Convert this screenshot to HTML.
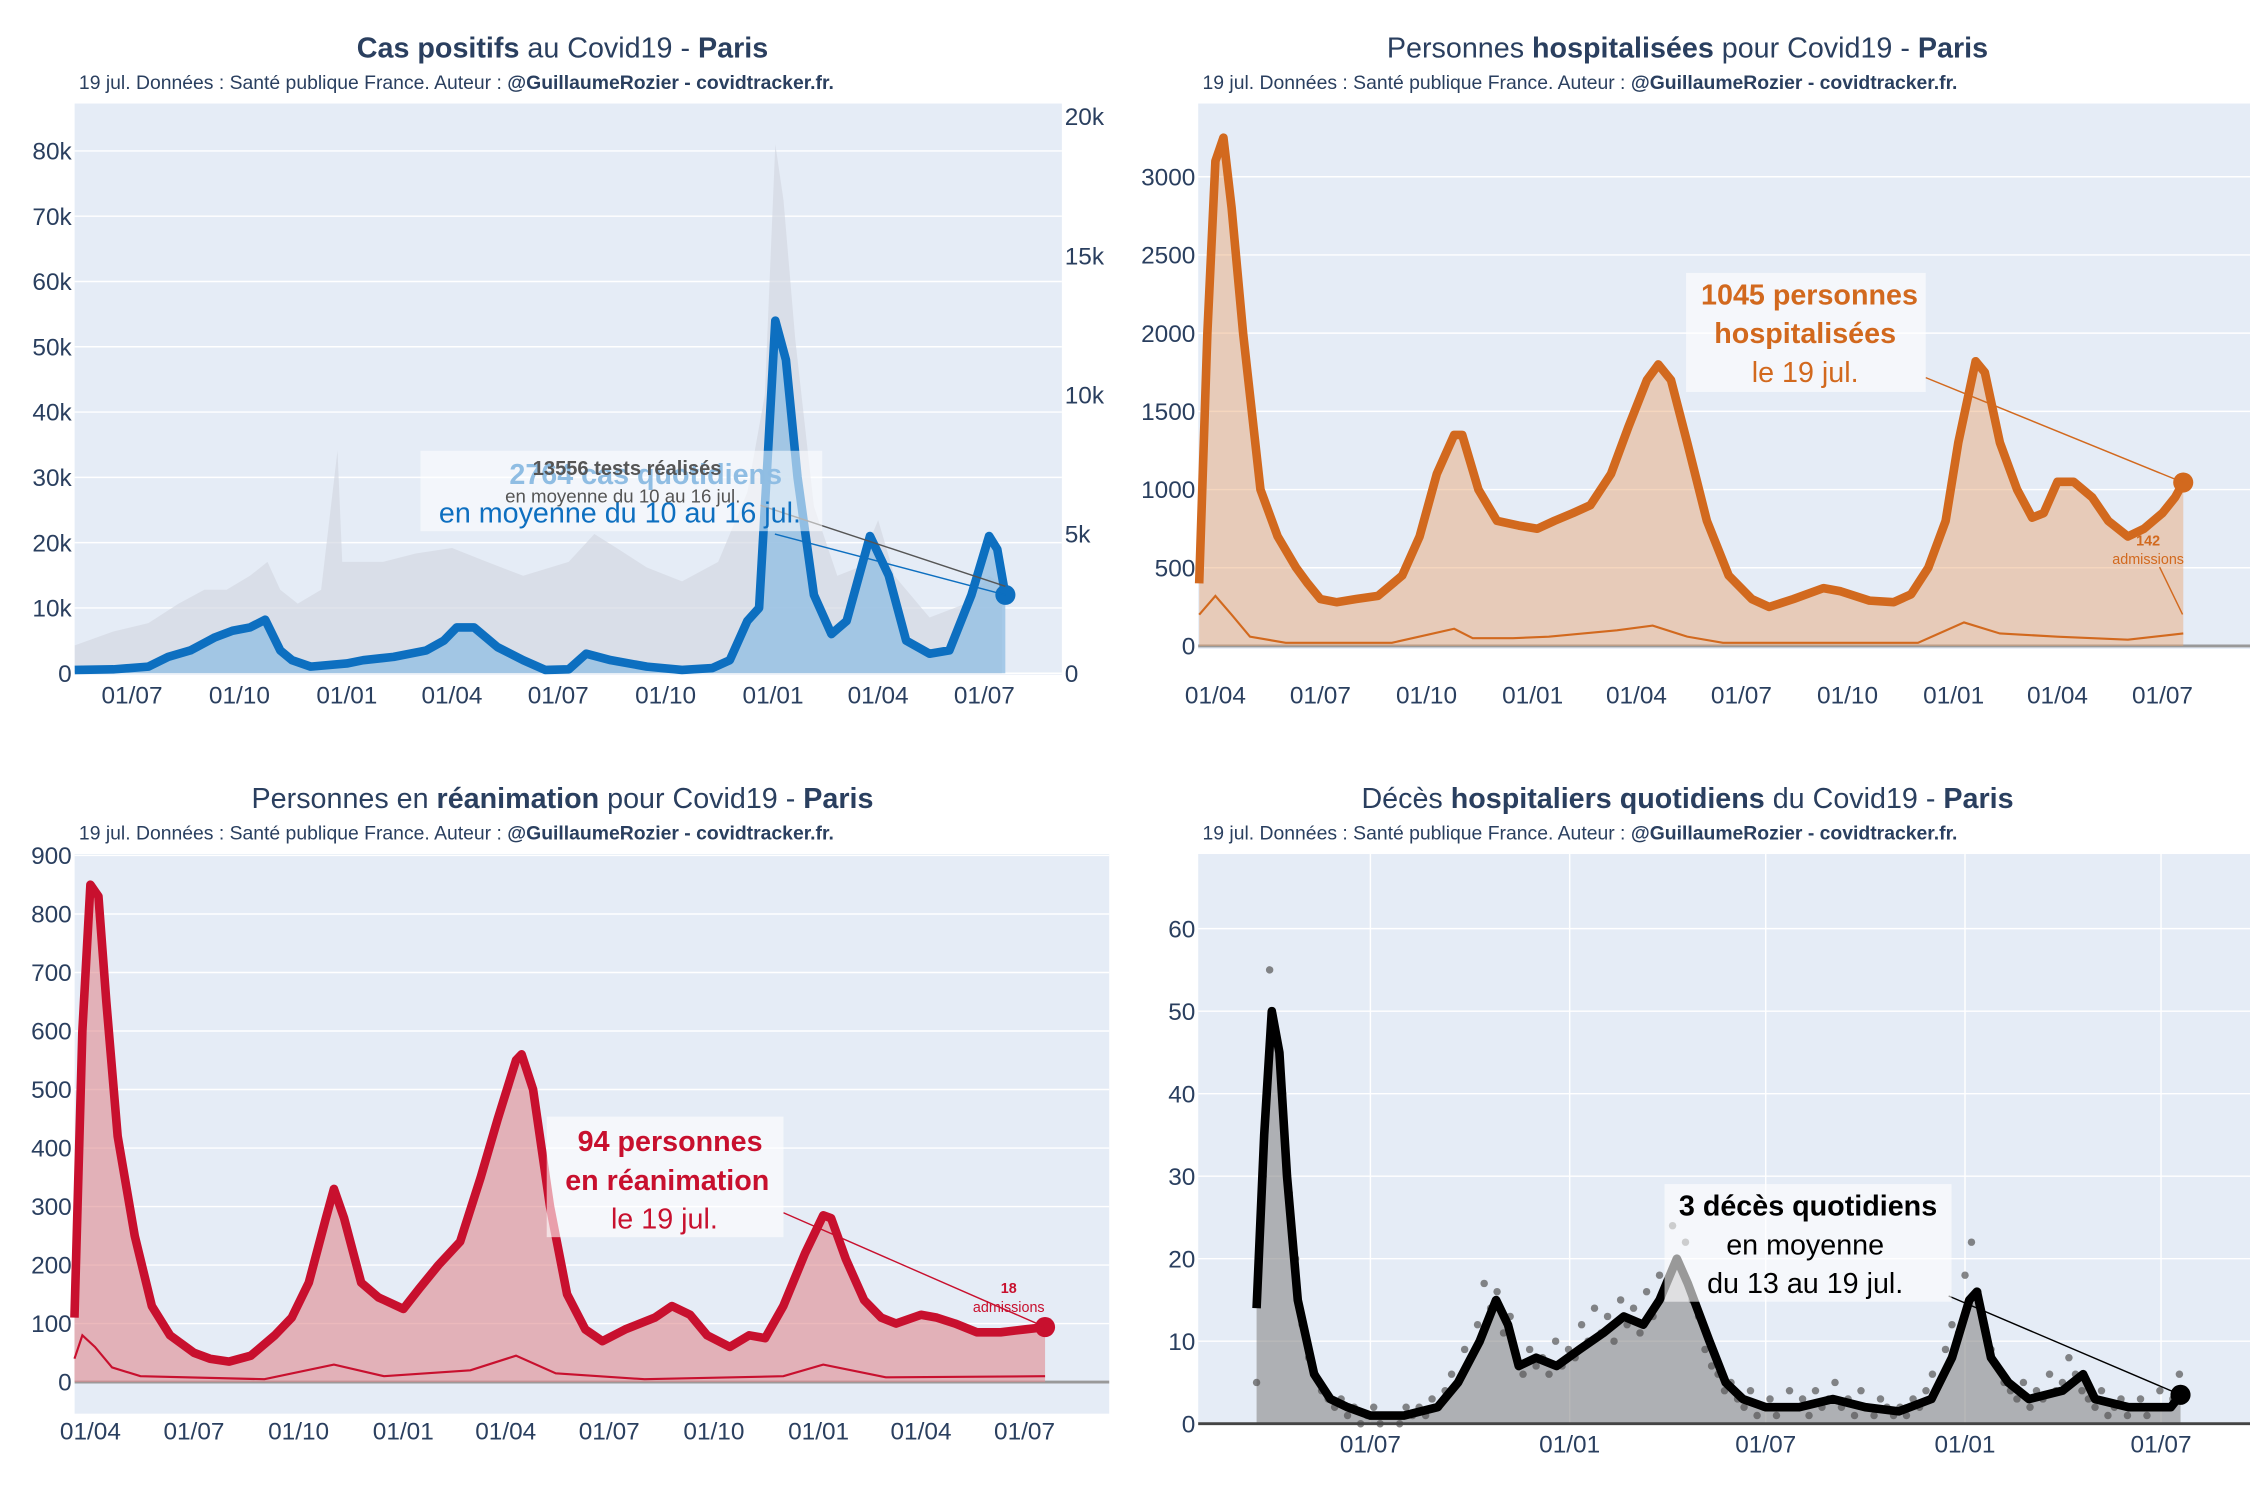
<!DOCTYPE html>
<html><head><meta charset="utf-8">
<style>
html,body{margin:0;padding:0;background:#fff;}
svg{display:block;font-family:"Liberation Sans",sans-serif;}
.tick{font-size:17px;fill:#2a3f5f;}
.title{font-size:20px;fill:#2a3f5f;}
.sub{font-size:13.5px;fill:#2a3f5f;}
</style></head>
<body>
<svg id="chart" width="2250" height="1500" viewBox="0 0 1568 1045" xmlns="http://www.w3.org/2000/svg"></svg>
<script>
// ---------- Panel 1: cases (left axis, values in k) ----------
const casesDates=["2020-05-13","2020-06-15","2020-07-15","2020-08-01","2020-08-20","2020-09-10","2020-09-25","2020-10-10","2020-10-23","2020-11-05","2020-11-15","2020-12-01","2021-01-01","2021-01-15","2021-02-10","2021-03-10","2021-03-25","2021-04-05","2021-04-20","2021-05-10","2021-06-01","2021-06-20","2021-07-10","2021-07-25","2021-08-15","2021-09-15","2021-10-15","2021-11-10","2021-11-25","2021-12-10","2021-12-20","2021-12-28","2022-01-03","2022-01-12","2022-01-22","2022-02-05","2022-02-20","2022-03-05","2022-03-25","2022-04-10","2022-04-25","2022-05-15","2022-06-01","2022-06-20","2022-07-05","2022-07-12","2022-07-19"];
const casesValues=[0.5,0.6,1.0,2.5,3.5,5.5,6.5,7.0,8.2,3.5,2.0,1.0,1.5,2.0,2.5,3.5,5.0,7.0,7.0,4.0,2.0,0.5,0.6,3.0,2.0,1.0,0.5,0.8,2.0,8.0,10,35,54,48,30,12,6,8,21,15,5,3,3.5,12,21,19,12];
const testsDates=["2020-05-13","2020-06-15","2020-07-15","2020-08-10","2020-09-01","2020-09-20","2020-10-10","2020-10-25","2020-11-05","2020-11-20","2020-12-10","2020-12-24","2020-12-28","2021-01-10","2021-02-01","2021-03-01","2021-04-01","2021-05-01","2021-06-01","2021-07-10","2021-08-01","2021-08-20","2021-09-15","2021-10-15","2021-11-15","2021-12-10","2021-12-25","2022-01-03","2022-01-10","2022-01-20","2022-02-05","2022-02-25","2022-03-15","2022-04-01","2022-04-15","2022-05-15","2022-06-15","2022-07-05","2022-07-16"];
const testsValues=[1.0,1.5,1.8,2.5,3.0,3.0,3.5,4.0,3.0,2.5,3.0,8.0,4.0,4.0,4.0,4.3,4.5,4.0,3.5,4.0,5.0,4.5,3.8,3.3,4.0,6.5,10,19,17,12,6,3.5,3.8,5.5,3.5,2.0,2.5,3.5,3.2];
const p1LeftTicks=[0,10,20,30,40,50,60,70,80];
const p1RightTicks=[0,5,10,15,20];
// ---------- Panel 2: hospitalisations ----------
const hospDates=["2020-03-18","2020-03-25","2020-04-01","2020-04-08","2020-04-15","2020-04-25","2020-05-10","2020-05-25","2020-06-10","2020-06-20","2020-07-01","2020-07-15","2020-08-01","2020-08-20","2020-09-10","2020-09-25","2020-10-10","2020-10-25","2020-11-01","2020-11-15","2020-12-01","2020-12-20","2021-01-05","2021-01-20","2021-02-05","2021-02-20","2021-03-10","2021-03-25","2021-04-10","2021-04-20","2021-05-01","2021-05-15","2021-06-01","2021-06-20","2021-07-10","2021-07-25","2021-08-15","2021-09-10","2021-09-25","2021-10-20","2021-11-10","2021-11-25","2021-12-10","2021-12-25","2022-01-05","2022-01-20","2022-01-28","2022-02-10","2022-02-25","2022-03-10","2022-03-20","2022-04-01","2022-04-15","2022-05-01","2022-05-15","2022-06-01","2022-06-15","2022-07-01","2022-07-12","2022-07-19"];
const hospValues=[400,2000,3100,3250,2800,2000,1000,700,500,400,300,280,300,320,450,700,1100,1350,1350,1000,800,770,750,800,850,900,1100,1400,1700,1800,1700,1300,800,450,300,250,300,370,350,290,280,330,500,800,1300,1820,1750,1300,1000,820,850,1050,1050,950,800,700,750,850,950,1045];
const hospAdmDates=["2020-03-18","2020-04-01","2020-04-15","2020-05-01","2020-06-01","2020-09-01","2020-10-25","2020-11-10","2020-12-15","2021-01-15","2021-03-15","2021-04-15","2021-05-15","2021-06-15","2021-09-01","2021-12-01","2022-01-10","2022-02-10","2022-04-01","2022-06-01","2022-07-19"];
const hospAdmValues=[200,320,200,60,20,20,110,50,50,60,100,130,60,20,20,20,150,80,60,40,80];
const p2Ticks=[0,500,1000,1500,2000,2500,3000];
// ---------- Panel 3: ICU ----------
const icuDates=["2020-03-18","2020-03-25","2020-04-01","2020-04-08","2020-04-15","2020-04-25","2020-05-10","2020-05-25","2020-06-10","2020-07-01","2020-07-15","2020-08-01","2020-08-20","2020-09-10","2020-09-25","2020-10-10","2020-10-25","2020-11-01","2020-11-10","2020-11-25","2020-12-10","2021-01-01","2021-01-15","2021-02-01","2021-02-20","2021-03-10","2021-03-25","2021-04-10","2021-04-15","2021-04-25","2021-05-10","2021-05-25","2021-06-10","2021-06-25","2021-07-15","2021-08-10","2021-08-25","2021-09-10","2021-09-25","2021-10-15","2021-11-01","2021-11-15","2021-12-01","2021-12-20","2022-01-05","2022-01-12","2022-01-25","2022-02-10","2022-02-25","2022-03-10","2022-04-01","2022-04-15","2022-05-01","2022-05-20","2022-06-10","2022-07-01","2022-07-19"];
const icuValues=[110,600,850,830,650,420,250,130,80,50,40,35,45,80,110,170,280,330,280,170,145,125,160,200,240,350,450,550,560,500,300,150,90,70,90,110,130,115,80,60,80,75,130,220,285,280,210,140,110,100,115,110,100,85,85,90,94];
const icuAdmDates=["2020-03-18","2020-03-25","2020-04-05","2020-04-20","2020-05-15","2020-09-01","2020-11-01","2020-12-15","2021-03-01","2021-04-10","2021-05-15","2021-08-01","2021-12-01","2022-01-05","2022-03-01","2022-07-19"];
const icuAdmValues=[40,80,60,25,10,5,30,10,20,45,15,5,10,30,8,10];
const p3Ticks=[0,100,200,300,400,500,600,700,800,900];
// ---------- Panel 4: deaths ----------
const deathDates=["2020-03-18","2020-03-25","2020-04-01","2020-04-08","2020-04-15","2020-04-25","2020-05-10","2020-05-25","2020-06-10","2020-07-01","2020-08-01","2020-09-01","2020-09-20","2020-10-10","2020-10-25","2020-11-05","2020-11-15","2020-12-01","2020-12-20","2021-01-10","2021-02-01","2021-02-20","2021-03-10","2021-03-25","2021-04-10","2021-04-20","2021-05-10","2021-05-25","2021-06-10","2021-07-01","2021-08-01","2021-09-01","2021-10-01","2021-11-01","2021-12-01","2021-12-20","2022-01-05","2022-01-12","2022-01-25","2022-02-10","2022-03-01","2022-04-01","2022-04-20","2022-05-01","2022-06-01","2022-07-10","2022-07-19"];
const deathValues=[14,35,50,45,30,15,6,3,2,1,1,2,5,10,15,12,7,8,7,9,11,13,12,15,20,17,10,5,3,2,2,3,2,1.5,3,8,15,16,8,5,3,4,6,3,2,2,3.5];
const dotStart="2020-03-18";
const dotValues=[5,30,55,47,40,28,20,12,8,6,4,3,2,3,1,2,0,1,2,0,1,1,0,2,1,2,1,3,2,4,6,5,9,8,12,17,14,16,11,13,8,6,9,7,8,6,10,7,9,8,12,10,14,11,13,10,15,12,14,11,16,13,18,17,24,19,22,15,13,9,7,6,4,5,3,2,4,1,2,3,1,2,4,2,3,1,4,2,3,5,2,3,1,4,2,1,3,2,1,2,1,3,2,4,6,5,9,12,11,18,22,16,12,9,7,5,4,3,5,2,4,3,6,4,5,8,6,4,3,2,4,1,2,3,1,2,3,1,2,4,2,3,6];
const p4Ticks=[0,10,20,30,40,50,60];
const xTickLabels1=["01/07","01/10","01/01","01/04","01/07","01/10","01/01","01/04","01/07"];
const xTickDates1=["2020-07-01","2020-10-01","2021-01-01","2021-04-01","2021-07-01","2021-10-01","2022-01-01","2022-04-01","2022-07-01"];
const xTickLabels2=["01/04","01/07","01/10","01/01","01/04","01/07","01/10","01/01","01/04","01/07"];
const xTickDates2=["2020-04-01","2020-07-01","2020-10-01","2021-01-01","2021-04-01","2021-07-01","2021-10-01","2022-01-01","2022-04-01","2022-07-01"];
const xTickLabels4=["01/07","01/01","01/07","01/01","01/07"];
const xTickDates4=["2020-07-01","2021-01-01","2021-07-01","2022-01-01","2022-07-01"];

const NS="http://www.w3.org/2000/svg";
const svg=document.getElementById('chart');
function el(tag,attrs,parent,text){const e=document.createElementNS(NS,tag);for(const k in attrs)e.setAttribute(k,attrs[k]);if(text!==undefined)e.textContent=text;(parent||svg).appendChild(e);return e;}
function day(s){return Date.UTC(+s.slice(0,4),+s.slice(5,7)-1,+s.slice(8,10))/86400000;}
function xs(refDate,refX,k){const d0=day(refDate);return s=>refX+(day(s)-d0)*k;}
function ys(y0,yRef,vRef){return v=>y0-(v/vRef)*(y0-yRef);}
function linePath(dates,vals,x,y){return dates.map((d,i)=>(i?'L':'M')+x(d).toFixed(1)+','+y(vals[i]).toFixed(1)).join(' ');}
function areaPath(dates,vals,x,y,base){return linePath(dates,vals,x,y)+' L'+x(dates[dates.length-1]).toFixed(1)+','+base+' L'+x(dates[0]).toFixed(1)+','+base+' Z';}
function titles(g,cx,ty,html,subx,suby){
  const t=el('text',{x:cx,y:ty,'text-anchor':'middle',class:'title'},g);
  
  html.forEach(p=>{const ts=el('tspan',p[1]?{'font-weight':'bold'}:{},t,p[0]);});
  const s=el('text',{x:subx,y:suby,class:'sub'},g);
  
  el('tspan',{},s,'19 jul. Données : Santé publique France. Auteur : ');
  el('tspan',{'font-weight':'bold'},s,'@GuillaumeRozier - covidtracker.fr.');
}
function yTicks(g,ticks,y,x0,x1,labelX,anchor,fmt,grid){
  ticks.forEach(v=>{
    if(grid){const l=el('line',{x1:x0,x2:x1,y1:y(v),y2:y(v),stroke:'#fff','stroke-width':1},g);}
    const t=el('text',{x:labelX,y:y(v)+6,'text-anchor':anchor,class:'tick'},g,fmt(v));
    
  });
}
function xTicks(g,dates,labels,x,ty,vgrid,gy0,gy1){
  dates.forEach((d,i)=>{
    if(vgrid){const l=el('line',{x1:x(d),x2:x(d),y1:gy0,y2:gy1,stroke:'#fff','stroke-width':1},g);}
    const t=el('text',{x:x(d),y:ty,'text-anchor':'middle',class:'tick'},g,labels[i]);
    
  });
}

// ===== Panel 1 =====
(function(){
  const g=el('g',{});
  titles(g,392,40,[['Cas positifs',1],[' au Covid19 - ',0],['Paris',1]],55,62);
  const bg=el('rect',{x:52,y:72,width:688,height:398,fill:'#e5ecf6'},g);
  const x=xs("2020-07-01",92,594/730), yl=ys(469,105,80), yr=ys(469,81,20);
  yTicks(g,p1LeftTicks,yl,52,740,50,'end',v=>v?v+'k':'0',true);
  yTicks(g,p1RightTicks,yr,52,740,742,'start',v=>v?v+'k':'0',false);
  const ta=el('path',{d:areaPath(testsDates,testsValues,x,yr,469),fill:'#d4d9e2','fill-opacity':0.7},g);
  const ca=el('path',{d:areaPath(casesDates,casesValues,x,yl,469),fill:'#8fbde3','fill-opacity':0.75},g);
  const cl=el('path',{d:linePath(casesDates,casesValues,x,yl),fill:'none',stroke:'#0d6fc0','stroke-width':6,'stroke-linejoin':'round'},g);
  const last=casesDates.length-1;
  const dot=el('circle',{cx:x(casesDates[last]),cy:yl(casesValues[last]),r:7,fill:'#0d6fc0'},g);
  el('line',{x1:540,y1:372,x2:x(casesDates[last]),y2:yl(casesValues[last]),stroke:'#0d6fc0','stroke-width':1},g);
  el('line',{x1:530,y1:352,x2:x(casesDates[last]),y2:yl(casesValues[last])-6,stroke:'#555','stroke-width':1},g);
  const box=el('rect',{x:293,y:314,width:280,height:56,fill:'#fff','fill-opacity':0.55},g);
  el('text',{x:450,y:337,'text-anchor':'middle','font-size':20,'font-weight':'bold',fill:'#8fbde3'},g,'2764 cas quotidiens');
  el('text',{x:432,y:364,'text-anchor':'middle','font-size':20,fill:'#0d6fc0'},g,'en moyenne du 10 au 16 jul.');
  el('text',{x:437,y:331,'text-anchor':'middle','font-size':14,'font-weight':'bold',fill:'#555'},g,'13556 tests réalisés');
  el('text',{x:434,y:350,'text-anchor':'middle','font-size':13,fill:'#555'},g,'en moyenne du 10 au 16 jul.');
  xTicks(g,xTickDates1,xTickLabels1,x,490,false);
})();

// ===== Panel 2 =====
(function(){
  const g=el('g',{});
  titles(g,1176,40,[['Personnes ',0],['hospitalisées',1],[' pour Covid19 - ',0],['Paris',1]],838,62);
  const bg=el('rect',{x:835,y:72,width:733,height:380,fill:'#e5ecf6'},g);
  const x=xs("2020-04-01",847,660/821), y=ys(450,123,3000);
  yTicks(g,p2Ticks,y,835,1568,833,'end',v=>String(v),true);
  el('line',{x1:835,x2:1568,y1:450,y2:450,stroke:'#999','stroke-width':2},g);
  const a=el('path',{d:areaPath(hospDates,hospValues,x,y,450),fill:'#e8a36e','fill-opacity':0.45},g);
  const l=el('path',{d:linePath(hospDates,hospValues,x,y),fill:'none',stroke:'#d2691e','stroke-width':6,'stroke-linejoin':'round'},g);
  const al=el('path',{d:linePath(hospAdmDates,hospAdmValues,x,y),fill:'none',stroke:'#d2691e','stroke-width':1.5},g);
  const n=hospDates.length-1;
  const d=el('circle',{cx:x(hospDates[n]),cy:y(hospValues[n]),r:7,fill:'#d2691e'},g);
  el('line',{x1:1342,y1:263,x2:x(hospDates[n]),y2:y(hospValues[n]),stroke:'#d2691e','stroke-width':1},g);
  el('line',{x1:1505,y1:395,x2:1521,y2:428,stroke:'#d2691e','stroke-width':1},g);
  const box=el('rect',{x:1175,y:190,width:167,height:83,fill:'#fff','fill-opacity':0.6},g);
  el('text',{x:1261,y:212,'text-anchor':'middle','font-size':20,'font-weight':'bold',fill:'#d2691e'},g,'1045 personnes');
  el('text',{x:1258,y:239,'text-anchor':'middle','font-size':20,'font-weight':'bold',fill:'#d2691e'},g,'hospitalisées');
  el('text',{x:1258,y:266,'text-anchor':'middle','font-size':20,fill:'#d2691e'},g,'le 19 jul.');
  el('text',{x:1497,y:380,'text-anchor':'middle','font-size':10,'font-weight':'bold',fill:'#d2691e'},g,'142');
  el('text',{x:1497,y:393,'text-anchor':'middle','font-size':10,fill:'#d2691e'},g,'admissions');
  xTicks(g,xTickDates2,xTickLabels2,x,490,false);
})();

// ===== Panel 3 =====
(function(){
  const g=el('g',{});
  titles(g,392,563,[['Personnes en ',0],['réanimation',1],[' pour Covid19 - ',0],['Paris',1]],55,585);
  const bg=el('rect',{x:52,y:595,width:721,height:390,fill:'#e5ecf6'},g);
  const x=xs("2020-04-01",63,651/821), y=ys(963,596,900);
  yTicks(g,p3Ticks,y,52,773,50,'end',v=>String(v),true);
  el('line',{x1:52,x2:773,y1:963,y2:963,stroke:'#999','stroke-width':2},g);
  const a=el('path',{d:areaPath(icuDates,icuValues,x,y,963),fill:'#e08a8f','fill-opacity':0.6},g);
  const l=el('path',{d:linePath(icuDates,icuValues,x,y),fill:'none',stroke:'#c8102e','stroke-width':6,'stroke-linejoin':'round'},g);
  const al=el('path',{d:linePath(icuAdmDates,icuAdmValues,x,y),fill:'none',stroke:'#c8102e','stroke-width':1.5},g);
  const n=icuDates.length-1;
  const d=el('circle',{cx:x(icuDates[n]),cy:y(icuValues[n]),r:7,fill:'#c8102e'},g);
  el('line',{x1:546,y1:845,x2:x(icuDates[n]),y2:y(icuValues[n]),stroke:'#c8102e','stroke-width':1},g);
  const box=el('rect',{x:381,y:778,width:165,height:84,fill:'#fff','fill-opacity':0.6},g);
  el('text',{x:467,y:802,'text-anchor':'middle','font-size':20,'font-weight':'bold',fill:'#c8102e'},g,'94 personnes');
  el('text',{x:465,y:829,'text-anchor':'middle','font-size':20,'font-weight':'bold',fill:'#c8102e'},g,'en réanimation');
  el('text',{x:463,y:856,'text-anchor':'middle','font-size':20,fill:'#c8102e'},g,'le 19 jul.');
  el('text',{x:703,y:901,'text-anchor':'middle','font-size':10,'font-weight':'bold',fill:'#c8102e'},g,'18');
  el('text',{x:703,y:914,'text-anchor':'middle','font-size':10,fill:'#c8102e'},g,'admissions');
  xTicks(g,xTickDates2,xTickLabels2,x,1003,false);
})();

// ===== Panel 4 =====
(function(){
  const g=el('g',{});
  titles(g,1176,563,[['Décès ',0],['hospitaliers quotidiens',1],[' du Covid19 - ',0],['Paris',1]],838,585);
  const bg=el('rect',{x:835,y:595,width:733,height:398,fill:'#e5ecf6'},g);
  const x=xs("2020-07-01",955,551/730), y=ys(992,647,60);
  yTicks(g,p4Ticks,y,835,1568,833,'end',v=>String(v),true);
  xTicks(g,xTickDates4,xTickLabels4,x,1012,true,595,992);
  const a=el('path',{d:areaPath(deathDates,deathValues,x,y,992),fill:'#888','fill-opacity':0.6},g);
  const d0=day(dotStart);
  dotValues.forEach((v,i)=>{
    const c=el('circle',{cx:(955+(d0+i*6-day("2020-07-01"))*551/730).toFixed(1),cy:y(v),r:2.6,fill:'#555','fill-opacity':0.7},g);
    
    
  });
  const l=el('path',{d:linePath(deathDates,deathValues,x,y),fill:'none',stroke:'#000','stroke-width':6,'stroke-linejoin':'round'},g);
  el('line',{x1:835,x2:1568,y1:992,y2:992,stroke:'#444','stroke-width':2},g);
  const n=deathDates.length-1;
  const d=el('circle',{cx:x(deathDates[n]),cy:y(deathValues[n]),r:7,fill:'#000'},g);
  el('line',{x1:1358,y1:903,x2:x(deathDates[n]),y2:y(deathValues[n]),stroke:'#000','stroke-width':1},g);
  const box=el('rect',{x:1160,y:825,width:200,height:82,fill:'#fff','fill-opacity':0.6},g);
  el('text',{x:1260,y:847,'text-anchor':'middle','font-size':20,'font-weight':'bold',fill:'#000'},g,'3 décès quotidiens');
  el('text',{x:1258,y:874,'text-anchor':'middle','font-size':20,fill:'#000'},g,'en moyenne');
  el('text',{x:1258,y:901,'text-anchor':'middle','font-size':20,fill:'#000'},g,'du 13 au 19 jul.');
})();
</script>
</body></html>
